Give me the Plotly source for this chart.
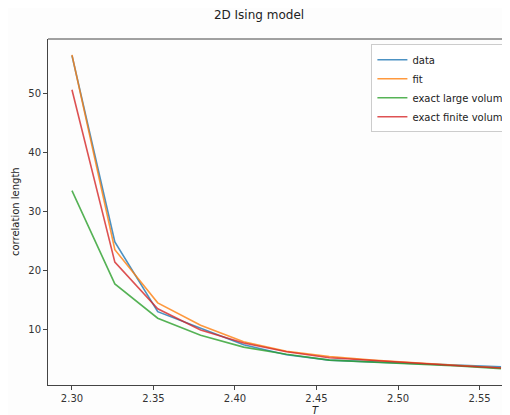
import plotly.graph_objects as go

T = [2.3, 2.3263, 2.3526, 2.3789, 2.4053, 2.4316, 2.4579, 2.4842, 2.5105, 2.5368, 2.5632]
data = [56.5, 24.9, 13.1, 10.3, 7.5, 5.8, 4.9, 4.6, 4.3, 3.95, 3.75]
fit = [56.6, 23.6, 14.6, 10.8, 8.0, 6.4, 5.5, 4.9, 4.45, 4.0, 3.55]
exact_large = [33.6, 17.8, 12.0, 9.1, 7.1, 5.9, 4.9, 4.6, 4.3, 3.9, 3.45]
exact_finite = [50.7, 21.5, 13.6, 10.0, 7.8, 6.3, 5.3, 4.8, 4.4, 3.95, 3.55]

names = ["data", "fit", "exact large volume", "exact finite volume"]
series = [data, fit, exact_large, exact_finite]
colors = ["#1f77b4", "#ff7f0e", "#2ca02c", "#d62728"]

fig = go.Figure()
for n, s, c in zip(names, series, colors):
    fig.add_trace(go.Scatter(x=T, y=s, mode="lines", name=n,
                             line=dict(color=c, width=1.6), opacity=0.8))

axis_common = dict(showgrid=False, zeroline=False, showline=True, linecolor="#444",
                   linewidth=1, ticks="outside", ticklen=4, tickcolor="#444",
                   tickfont=dict(family="DejaVu Sans", size=10, color="#333"))
fig.update_layout(
    width=502, height=407,
    margin=dict(l=40, r=0, t=31, b=30, autoexpand=False),
    paper_bgcolor="#fdfdfd", plot_bgcolor="#fdfdfd",
    title=dict(text="2D Ising model", x=0.5, xanchor="center", y=0.983, yanchor="middle",
               font=dict(family="DejaVu Sans", size=12, color="#222")),
    xaxis=dict(range=[2.2853, 2.5687], tickvals=[2.30, 2.35, 2.40, 2.45, 2.50, 2.55],
               ticktext=["2.30", "2.35", "2.40", "2.45", "2.50", "2.55"], mirror=False,
               automargin=False, **axis_common),
    yaxis=dict(range=[0.68, 59.3], tickvals=[10, 20, 30, 40, 50], automargin=False,
               **axis_common),
    legend=dict(x=0.70, y=0.985, xanchor="left", yanchor="top",
                bgcolor="rgba(255,255,255,0.8)", bordercolor="#ccc", borderwidth=1,
                font=dict(family="DejaVu Sans", size=10, color="#222"),
                tracegroupgap=0, itemwidth=30),
    showlegend=True,
)
fig.add_shape(type="line", xref="paper", yref="paper", x0=0, x1=1, y0=1, y1=1,
              line=dict(color="#444", width=1))
fig.add_annotation(text="correlation length", xref="paper", yref="paper", x=-0.0714, y=0.5,
                   textangle=-90, showarrow=False, xanchor="center", yanchor="middle",
                   font=dict(family="DejaVu Sans", size=10, color="#222"))
fig.add_annotation(text="<i>T</i>", xref="paper", yref="paper", x=0.58, y=-0.073,
                   showarrow=False, xanchor="center", yanchor="middle",
                   font=dict(family="DejaVu Sans", size=10, color="#222"))
fig.write_html("out.html")
